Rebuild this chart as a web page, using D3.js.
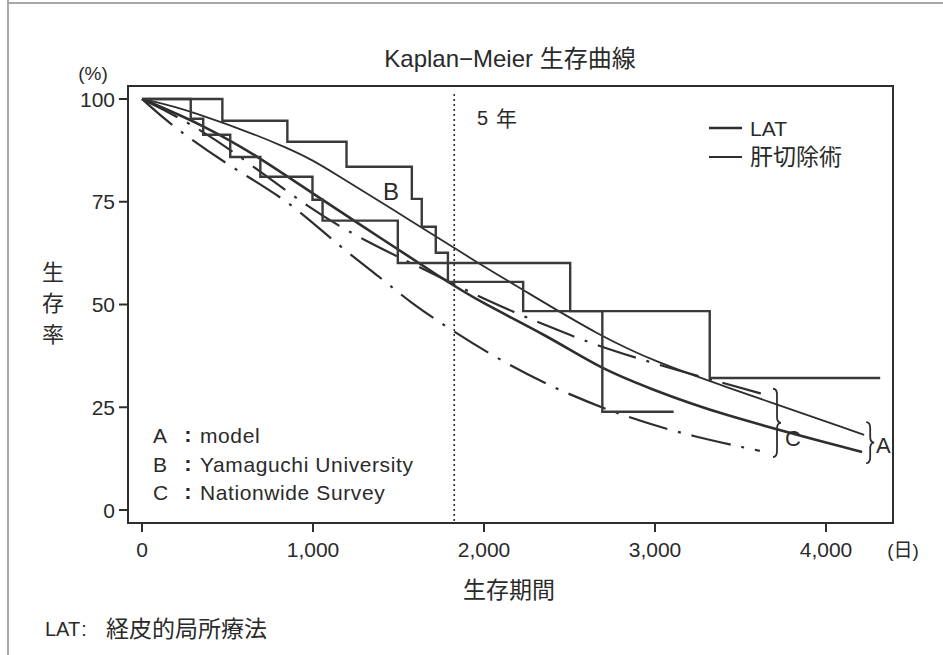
<!DOCTYPE html>
<html>
<head>
<meta charset="utf-8">
<script src="https://cdn.jsdelivr.net/npm/d3@7"></script>
<style>
  body { margin: 0; background: #fff; }
  svg text { font-family: "Liberation Sans", Arial, "Noto Sans CJK JP", sans-serif; fill: #2a2a2a; }
  .cjk { font-family: "Noto Sans CJK JP", sans-serif; }
</style>
</head>
<body>
<div id="chart"></div>
<script>
// axis ticks
var xTicks = [0, 1000, 2000, 3000, 4000];
var yTicks = [0, 25, 50, 75, 100];

// B: Kaplan-Meier steps (Yamaguchi University)
var stepUpperDays = [0, 470, 850, 1196, 1578, 1636, 1718, 1789, 2229, 3320, 4317];
var stepUpperSurv = [100, 94.7, 89.6, 83.5, 75.7, 68.9, 62.6, 55.5, 48.4, 32.1, 32.1];
var stepLowerDays = [0, 285, 358, 516, 692, 997, 1056, 1496, 2504, 2692, 3109];
var stepLowerSurv = [100, 95.2, 91.3, 85.9, 81.1, 75.5, 70.4, 60.1, 48.4, 23.9, 23.9];

// A: model curves
var modelThinDays = [0, 264, 900, 1103, 1572, 1965, 2199, 2686, 3021, 3349, 4223];
var modelThinSurv = [100, 97.6, 87.6, 82.5, 70.4, 60.1, 54.3, 42.1, 35.8, 30.9, 18.3];
var modelThickDays = [0, 358, 692, 1026, 1396, 1748, 1982, 2375, 2686, 2962, 3349, 4211];
var modelThickSurv = [100, 93.7, 85.7, 76.2, 66.2, 56.5, 50.5, 42.3, 34.3, 29.7, 23.6, 14.1];

// C: nationwide survey (dash-dot)
var surveyUpperDays = [0, 211, 516, 985, 1326, 1630, 2041, 2411, 2645, 3021, 3372, 3666];
var surveyUpperSurv = [100, 95.7, 88, 73, 65, 59, 50.4, 44.1, 40.2, 35.3, 31.2, 27.8];
var surveyLowerDays = [0, 182, 516, 850, 1144, 1396, 1572, 1789, 2117, 2469, 2845, 3226, 3613];
var surveyLowerSurv = [100, 93.2, 83.5, 75.5, 64.5, 56.5, 50.4, 44.3, 35.8, 28.5, 22.4, 17.8, 14.4];

var fiveYears = 1826;
var abcLabels = [["A", "model"], ["B", "Yamaguchi University"], ["C", "Nationwide Survey"]];
var legendLabels = ["LAT", "肝切除術"];

var width = 943, height = 655;
var ink = "#2e2e2e";

var svg = d3.select("#chart").append("svg")
  .attr("width", width)
  .attr("height", height);

// scanned page edges
svg.append("line").attr("x1", 8).attr("x2", 8).attr("y1", 0).attr("y2", height)
  .attr("stroke", "#a8a8a8").attr("stroke-width", 2);
svg.append("line").attr("x1", 8).attr("x2", width).attr("y1", 3).attr("y2", 3)
  .attr("stroke", "#a8a8a8").attr("stroke-width", 2);

var x = d3.scaleLinear().domain([0, 4000]).range([142, 826]);
var y = d3.scaleLinear().domain([0, 100]).range([510, 99]);

// plot frame
var frame = { left: 128, right: 893, top: 86, bottom: 523 };
svg.append("rect")
  .attr("x", frame.left).attr("y", frame.top)
  .attr("width", frame.right - frame.left).attr("height", frame.bottom - frame.top)
  .attr("fill", "none").attr("stroke", ink).attr("stroke-width", 2);

// y ticks
var yt = svg.append("g");
yt.selectAll("line").data(yTicks).enter().append("line")
  .attr("x1", frame.left - 9).attr("x2", frame.left)
  .attr("y1", function(d) { return y(d); }).attr("y2", function(d) { return y(d); })
  .attr("stroke", ink).attr("stroke-width", 2);
yt.selectAll("text").data(yTicks).enter().append("text")
  .attr("x", 115).attr("y", function(d) { return y(d); })
  .attr("dy", "0.36em").attr("text-anchor", "end")
  .style("font-size", "21px")
  .text(function(d) { return d; });

// x ticks
var xt = svg.append("g");
xt.selectAll("line").data(xTicks).enter().append("line")
  .attr("x1", function(d) { return x(d); }).attr("x2", function(d) { return x(d); })
  .attr("y1", frame.bottom).attr("y2", frame.bottom + 9)
  .attr("stroke", ink).attr("stroke-width", 2);
xt.selectAll("text").data(xTicks).enter().append("text")
  .attr("x", function(d) { return x(d); }).attr("y", 557)
  .attr("text-anchor", "middle")
  .style("font-size", "21px")
  .text(function(d) { return d3.format(",")(d); });

// titles and axis labels
svg.append("text").attr("x", 510).attr("y", 67).attr("text-anchor", "middle")
  .style("font-size", "24px").text("Kaplan−Meier 生存曲線");
svg.append("text").attr("x", 93).attr("y", 80).attr("text-anchor", "middle")
  .style("font-size", "19px").text("(%)");
["生", "存", "率"].forEach(function(c, i) {
  svg.append("text").attr("class", "cjk").attr("x", 53).attr("y", 280 + i * 31)
    .attr("text-anchor", "middle").style("font-size", "22px").text(c);
});
svg.append("text").attr("class", "cjk").attr("x", 509).attr("y", 598)
  .attr("text-anchor", "middle").style("font-size", "23px").text("生存期間");
svg.append("text").attr("x", 903).attr("y", 557).attr("text-anchor", "middle")
  .style("font-size", "19px").text("(日)");

// footnote
svg.append("text").attr("x", 45).attr("y", 636).style("font-size", "20px").text("LAT");
svg.append("text").attr("x", 84).attr("y", 636).attr("text-anchor", "middle").style("font-size", "20px").text(":");
svg.append("text").attr("class", "cjk").attr("x", 106).attr("y", 637)
  .style("font-size", "23px").text("経皮的局所療法");

// 5 year marker
svg.append("line")
  .attr("x1", x(fiveYears)).attr("x2", x(fiveYears))
  .attr("y1", frame.top + 8).attr("y2", frame.bottom)
  .attr("stroke", ink).attr("stroke-width", 1.6).attr("stroke-dasharray", "2,3");
svg.append("text").attr("x", 477).attr("y", 125).style("font-size", "20px").text("5");
svg.append("text").attr("class", "cjk").attr("x", 496).attr("y", 126)
  .style("font-size", "21px").text("年");

function zip(days, surv) {
  return days.map(function(d, i) { return [d, surv[i]]; });
}

var stepLine = d3.line()
  .x(function(d) { return x(d[0]); })
  .y(function(d) { return y(d[1]); })
  .curve(d3.curveStepAfter);
var smoothLine = d3.line()
  .x(function(d) { return x(d[0]); })
  .y(function(d) { return y(d[1]); })
  .curve(d3.curveBasis);

var curves = svg.append("g").attr("fill", "none").attr("stroke", ink);

curves.append("path").attr("d", smoothLine(zip(surveyUpperDays, surveyUpperSurv)))
  .attr("stroke-width", 2.2).attr("stroke-dasharray", "40,11,3,11");
curves.append("path").attr("d", smoothLine(zip(surveyLowerDays, surveyLowerSurv)))
  .attr("stroke-width", 2.2).attr("stroke-dasharray", "40,11,3,11");
curves.append("path").attr("d", smoothLine(zip(modelThinDays, modelThinSurv)))
  .attr("stroke-width", 1.8);
curves.append("path").attr("d", smoothLine(zip(modelThickDays, modelThickSurv)))
  .attr("stroke-width", 2.6);
curves.append("path").attr("d", stepLine(zip(stepUpperDays, stepUpperSurv)))
  .attr("stroke-width", 2.4).attr("stroke", "#3a3a3a");
curves.append("path").attr("d", stepLine(zip(stepLowerDays, stepLowerSurv)))
  .attr("stroke-width", 2.4).attr("stroke", "#3a3a3a");

// B label
svg.append("text").attr("x", 383).attr("y", 200).style("font-size", "24px").text("B");

// braces
function brace(bx, y1, y2, w) {
  var ym = (y1 + y2) / 2, r = 6;
  return "M" + bx + "," + y1 +
    " q" + (w / 2) + ",0 " + (w / 2) + "," + r +
    " V" + (ym - r) +
    " q0," + r + " " + (w / 2) + "," + r +
    " q" + (-w / 2) + ",0 " + (-w / 2) + "," + r +
    " V" + (y2 - r) +
    " q0," + r + " " + (-w / 2) + "," + r;
}
svg.append("path").attr("d", brace(x(3690), y(29.5), y(12.9), 8))
  .attr("fill", "none").attr("stroke", ink).attr("stroke-width", 1.8);
svg.append("text").attr("x", 785).attr("y", 446).style("font-size", "22px").text("C");
svg.append("path").attr("d", brace(x(4235), y(21.4), y(11.4), 8))
  .attr("fill", "none").attr("stroke", ink).attr("stroke-width", 1.8);
svg.append("text").attr("x", 876).attr("y", 453).style("font-size", "22px").text("A");

// A/B/C key
abcLabels.forEach(function(r, i) {
  var by = 443 + i * 28.5;
  svg.append("text").attr("x", 153).attr("y", by).style("font-size", "21px").text(r[0]);
  svg.append("text").attr("x", 188).attr("y", by - 1).attr("text-anchor", "middle")
    .style("font-size", "22px").style("font-weight", "bold").text(":");
  svg.append("text").attr("x", 200).attr("y", by).style("font-size", "21px")
    .style("letter-spacing", "0.6px").text(r[1]);
});

// line-style legend
legendLabels.forEach(function(label, i) {
  var ly = 128 + i * 29;
  svg.append("line").attr("x1", 709).attr("x2", 742).attr("y1", ly).attr("y2", ly)
    .attr("stroke", ink).attr("stroke-width", i === 0 ? 2.6 : 2);
  svg.append("text").attr("class", i === 0 ? null : "cjk")
    .attr("x", 750).attr("y", ly + 8)
    .style("font-size", i === 0 ? "21px" : "23px").text(label);
});
</script>
</body>
</html>
